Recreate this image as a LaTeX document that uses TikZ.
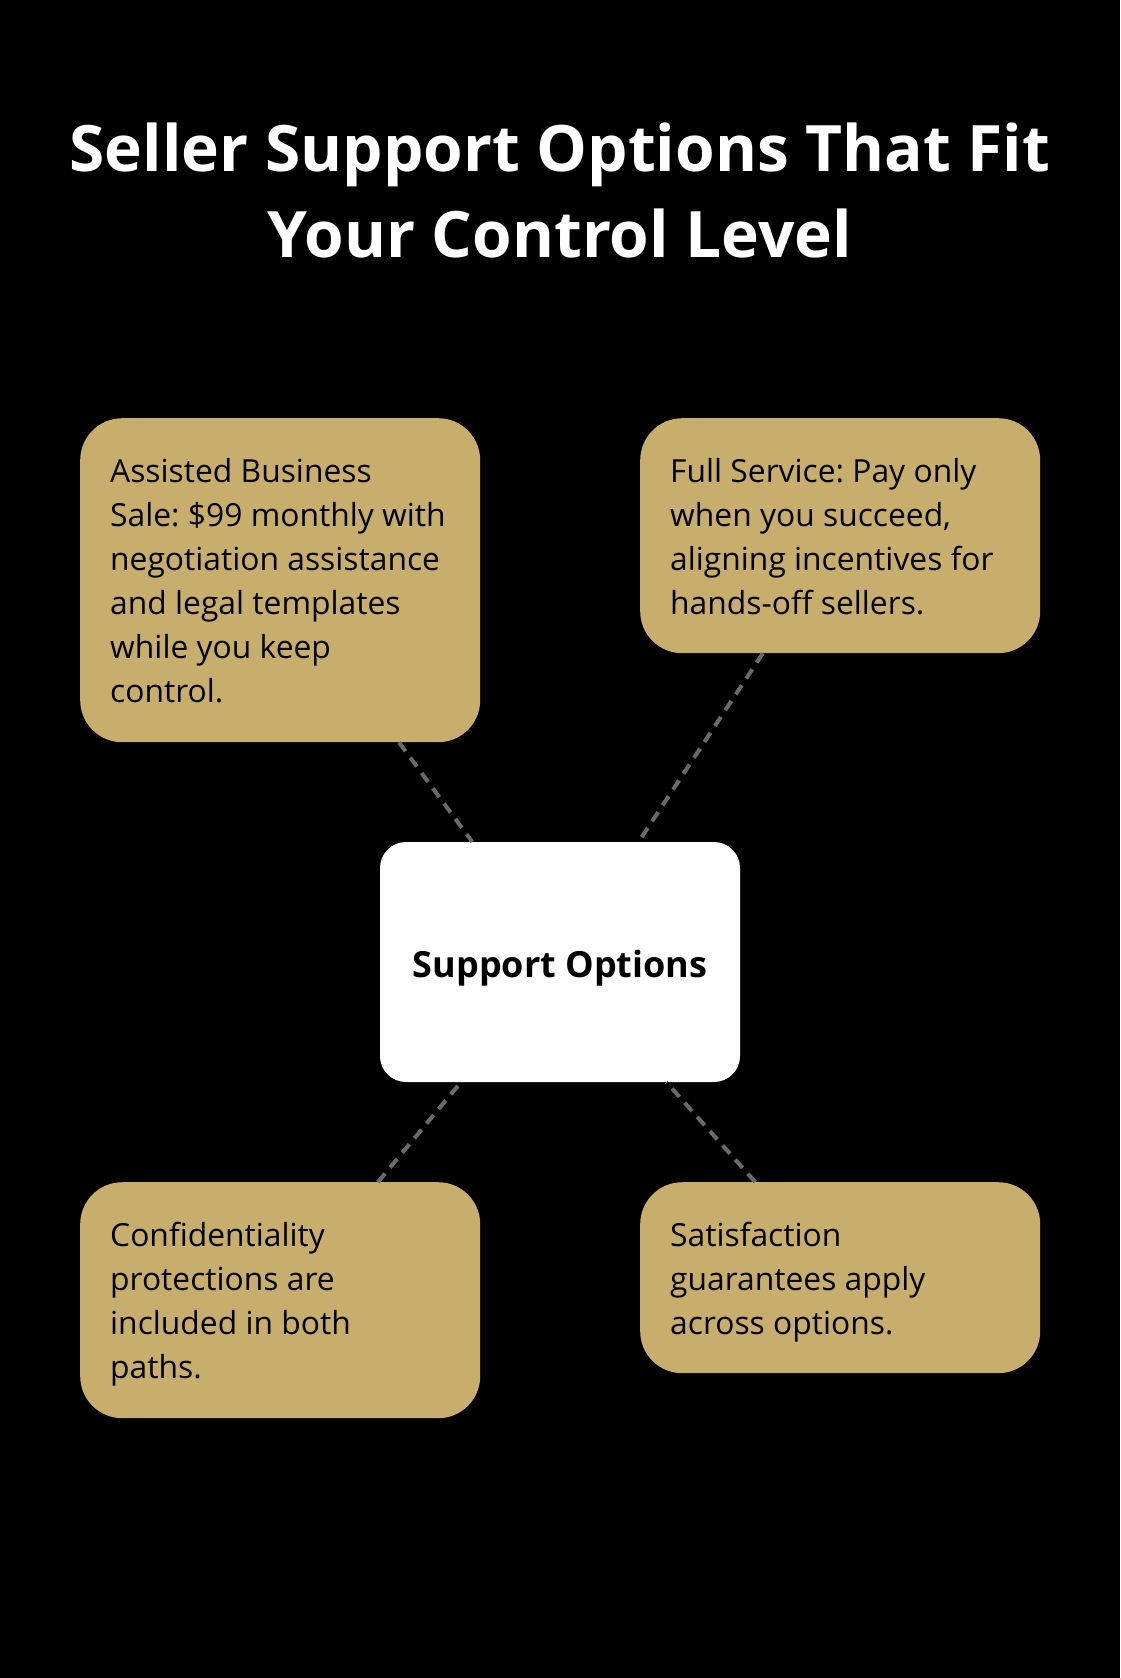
\documentclass[tikz,border=0pt]{standalone}
\usepackage{fontspec}
\setmainfont{Open Sans}
\frenchspacing
\definecolor{gold}{HTML}{C7AE6C}
\definecolor{dashgray}{HTML}{6A6A6A}
\begin{document}
\begin{tikzpicture}[x=1pt,y=-1pt,
  goldbox/.style={draw=none,fill=gold,rounded corners=42pt,minimum width=400pt,anchor=north west,inner sep=0pt},
  centerbox/.style={draw=none,fill=white,rounded corners=26pt,minimum width=360pt,minimum height=240pt,inner sep=0pt},
  boxtext/.style={anchor=base west,align=left,inner sep=0pt,font=\fontsize{31.8}{44}\selectfont\frenchspacing,text=black},
  conn/.style={draw=dashgray,line width=4pt,dash pattern=on 11pt off 8pt}]
\useasboundingbox[fill=black] (0,0) rectangle (1120,1678);
\node[text=white,align=center,font=\fontsize{64}{86}\bfseries\selectfont,anchor=base] (title) at (560,257) {Seller Support Options That Fit\\Your Control Level};
\node[goldbox,minimum height=324pt] (a) at (80,418) {};
\node[goldbox,minimum height=235pt] (b) at (640,418) {};
\node[goldbox,minimum height=236pt] (c) at (80,1182) {};
\node[goldbox,minimum height=191pt] (d) at (640,1182) {};
\node[centerbox] (s) at (560,962) {};
\node[font=\fontsize{36}{44}\bfseries\selectfont,anchor=base,inner sep=0pt] (st) at (560,977) {Support Options};
\node[boxtext] (ta) at (110,702) {Assisted Business\\Sale: \$99 monthly with\\negotiation assistance\\and legal templates\\while you keep\\control.};
\node[boxtext] (tb) at (670,614) {Full Service: Pay only\\when you succeed,\\aligning incentives for\\hands-off sellers.};
\node[boxtext] (tc) at (110,1378) {Confidentiality\\protections are\\included in both\\paths.};
\node[boxtext] (td) at (670,1334) {Satisfaction\\guarantees apply\\across options.};
\draw[conn] (a) -- (s);
\draw[conn] (b) -- (s);
\draw[conn] (c) -- (s);
\draw[conn] (d) -- (s);
\end{tikzpicture}
\end{document}
